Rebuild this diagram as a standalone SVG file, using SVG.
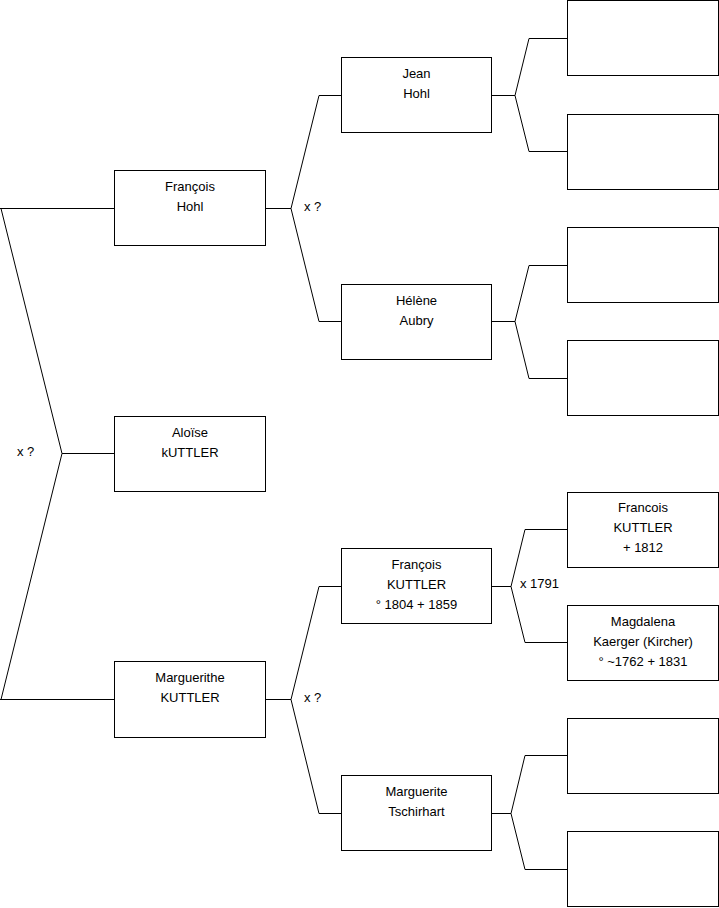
<svg xmlns="http://www.w3.org/2000/svg" width="719" height="908" viewBox="0 0 719 908">
<style>
.box{fill:#fff;stroke:#000;stroke-width:1}
.ln{fill:none;stroke:#000;stroke-width:1}
text{font-family:"Liberation Sans",Arial,sans-serif;font-size:13px;fill:#000}
.c{text-anchor:middle}
</style>
<rect width="719" height="908" fill="#fff"/>
<g id="connectors">
<path class="ln" d="M0,208.5 H114.5 M1,208.5 L62,453.5 L1,699.5 M62,453.5 H114.5 M0,699.5 H114.5"/>
<path class="ln" d="M265.5,208.5 H291 L319,95.5 H341.5 M291,208.5 L319,321.5 H341.5"/>
<path class="ln" d="M265.5,699.5 H291 L319,586.5 H341.5 M291,699.5 L319,813.5 H341.5"/>
<path class="ln" d="M491.5,95.5 H515 L529,38.5 H567.5 M515,95.5 L529,151.5 H567.5"/>
<path class="ln" d="M491.5,321.5 H515 L529,265.5 H567.5 M515,321.5 L529,378.5 H567.5"/>
<path class="ln" d="M491.5,586.5 H511 L525,529.5 H567.5 M511,586.5 L525,642.5 H567.5"/>
<path class="ln" d="M491.5,813.5 H511 L525,755.5 H567.5 M511,813.5 L525,869.5 H567.5"/>
<text x="17" y="456">x ?</text>
<text x="304" y="211">x ?</text>
<text x="304" y="702">x ?</text>
<text x="520" y="588">x 1791</text>
</g>
<g id="francois-hohl"><rect class="box" x="114.5" y="170.5" width="151" height="75"/><text class="c" x="190" y="191">François</text><text class="c" x="190" y="211">Hohl</text></g>
<g id="aloise-kuttler"><rect class="box" x="114.5" y="416.5" width="151" height="75"/><text class="c" x="190" y="437">Aloïse</text><text class="c" x="190" y="457">kUTTLER</text></g>
<g id="marguerithe-kuttler"><rect class="box" x="114.5" y="661.5" width="151" height="76"/><text class="c" x="190" y="682">Marguerithe</text><text class="c" x="190" y="702">KUTTLER</text></g>
<g id="jean-hohl"><rect class="box" x="341.5" y="57.5" width="150" height="75"/><text class="c" x="416.5" y="78">Jean</text><text class="c" x="416.5" y="98">Hohl</text></g>
<g id="helene-aubry"><rect class="box" x="341.5" y="284.5" width="150" height="75"/><text class="c" x="416.5" y="305">Hélène</text><text class="c" x="416.5" y="325">Aubry</text></g>
<g id="francois-kuttler-1804"><rect class="box" x="341.5" y="548.5" width="150" height="75"/><text class="c" x="416.5" y="569">François</text><text class="c" x="416.5" y="589">KUTTLER</text><text class="c" x="416.5" y="609">° 1804 + 1859</text></g>
<g id="marguerite-tschirhart"><rect class="box" x="341.5" y="775.5" width="150" height="75"/><text class="c" x="416.5" y="796">Marguerite</text><text class="c" x="416.5" y="816">Tschirhart</text></g>
<g id="p1"><rect class="box" x="567.5" y="0.5" width="151" height="75"/></g>
<g id="p2"><rect class="box" x="567.5" y="114.5" width="151" height="75"/></g>
<g id="p3"><rect class="box" x="567.5" y="227.5" width="151" height="75"/></g>
<g id="p4"><rect class="box" x="567.5" y="340.5" width="151" height="75"/></g>
<g id="francois-kuttler-1812"><rect class="box" x="567.5" y="492.5" width="151" height="75"/><text class="c" x="643" y="512">Francois</text><text class="c" x="643" y="532">KUTTLER</text><text class="c" x="643" y="552">+ 1812</text></g>
<g id="magdalena-kaerger"><rect class="box" x="567.5" y="605.5" width="151" height="75"/><text class="c" x="643" y="626">Magdalena</text><text class="c" x="643" y="646">Kaerger (Kircher)</text><text class="c" x="643" y="666">° ~1762 + 1831</text></g>
<g id="p7"><rect class="box" x="567.5" y="718.5" width="151" height="75"/></g>
<g id="p8"><rect class="box" x="567.5" y="831.5" width="151" height="75"/></g>
</svg>
